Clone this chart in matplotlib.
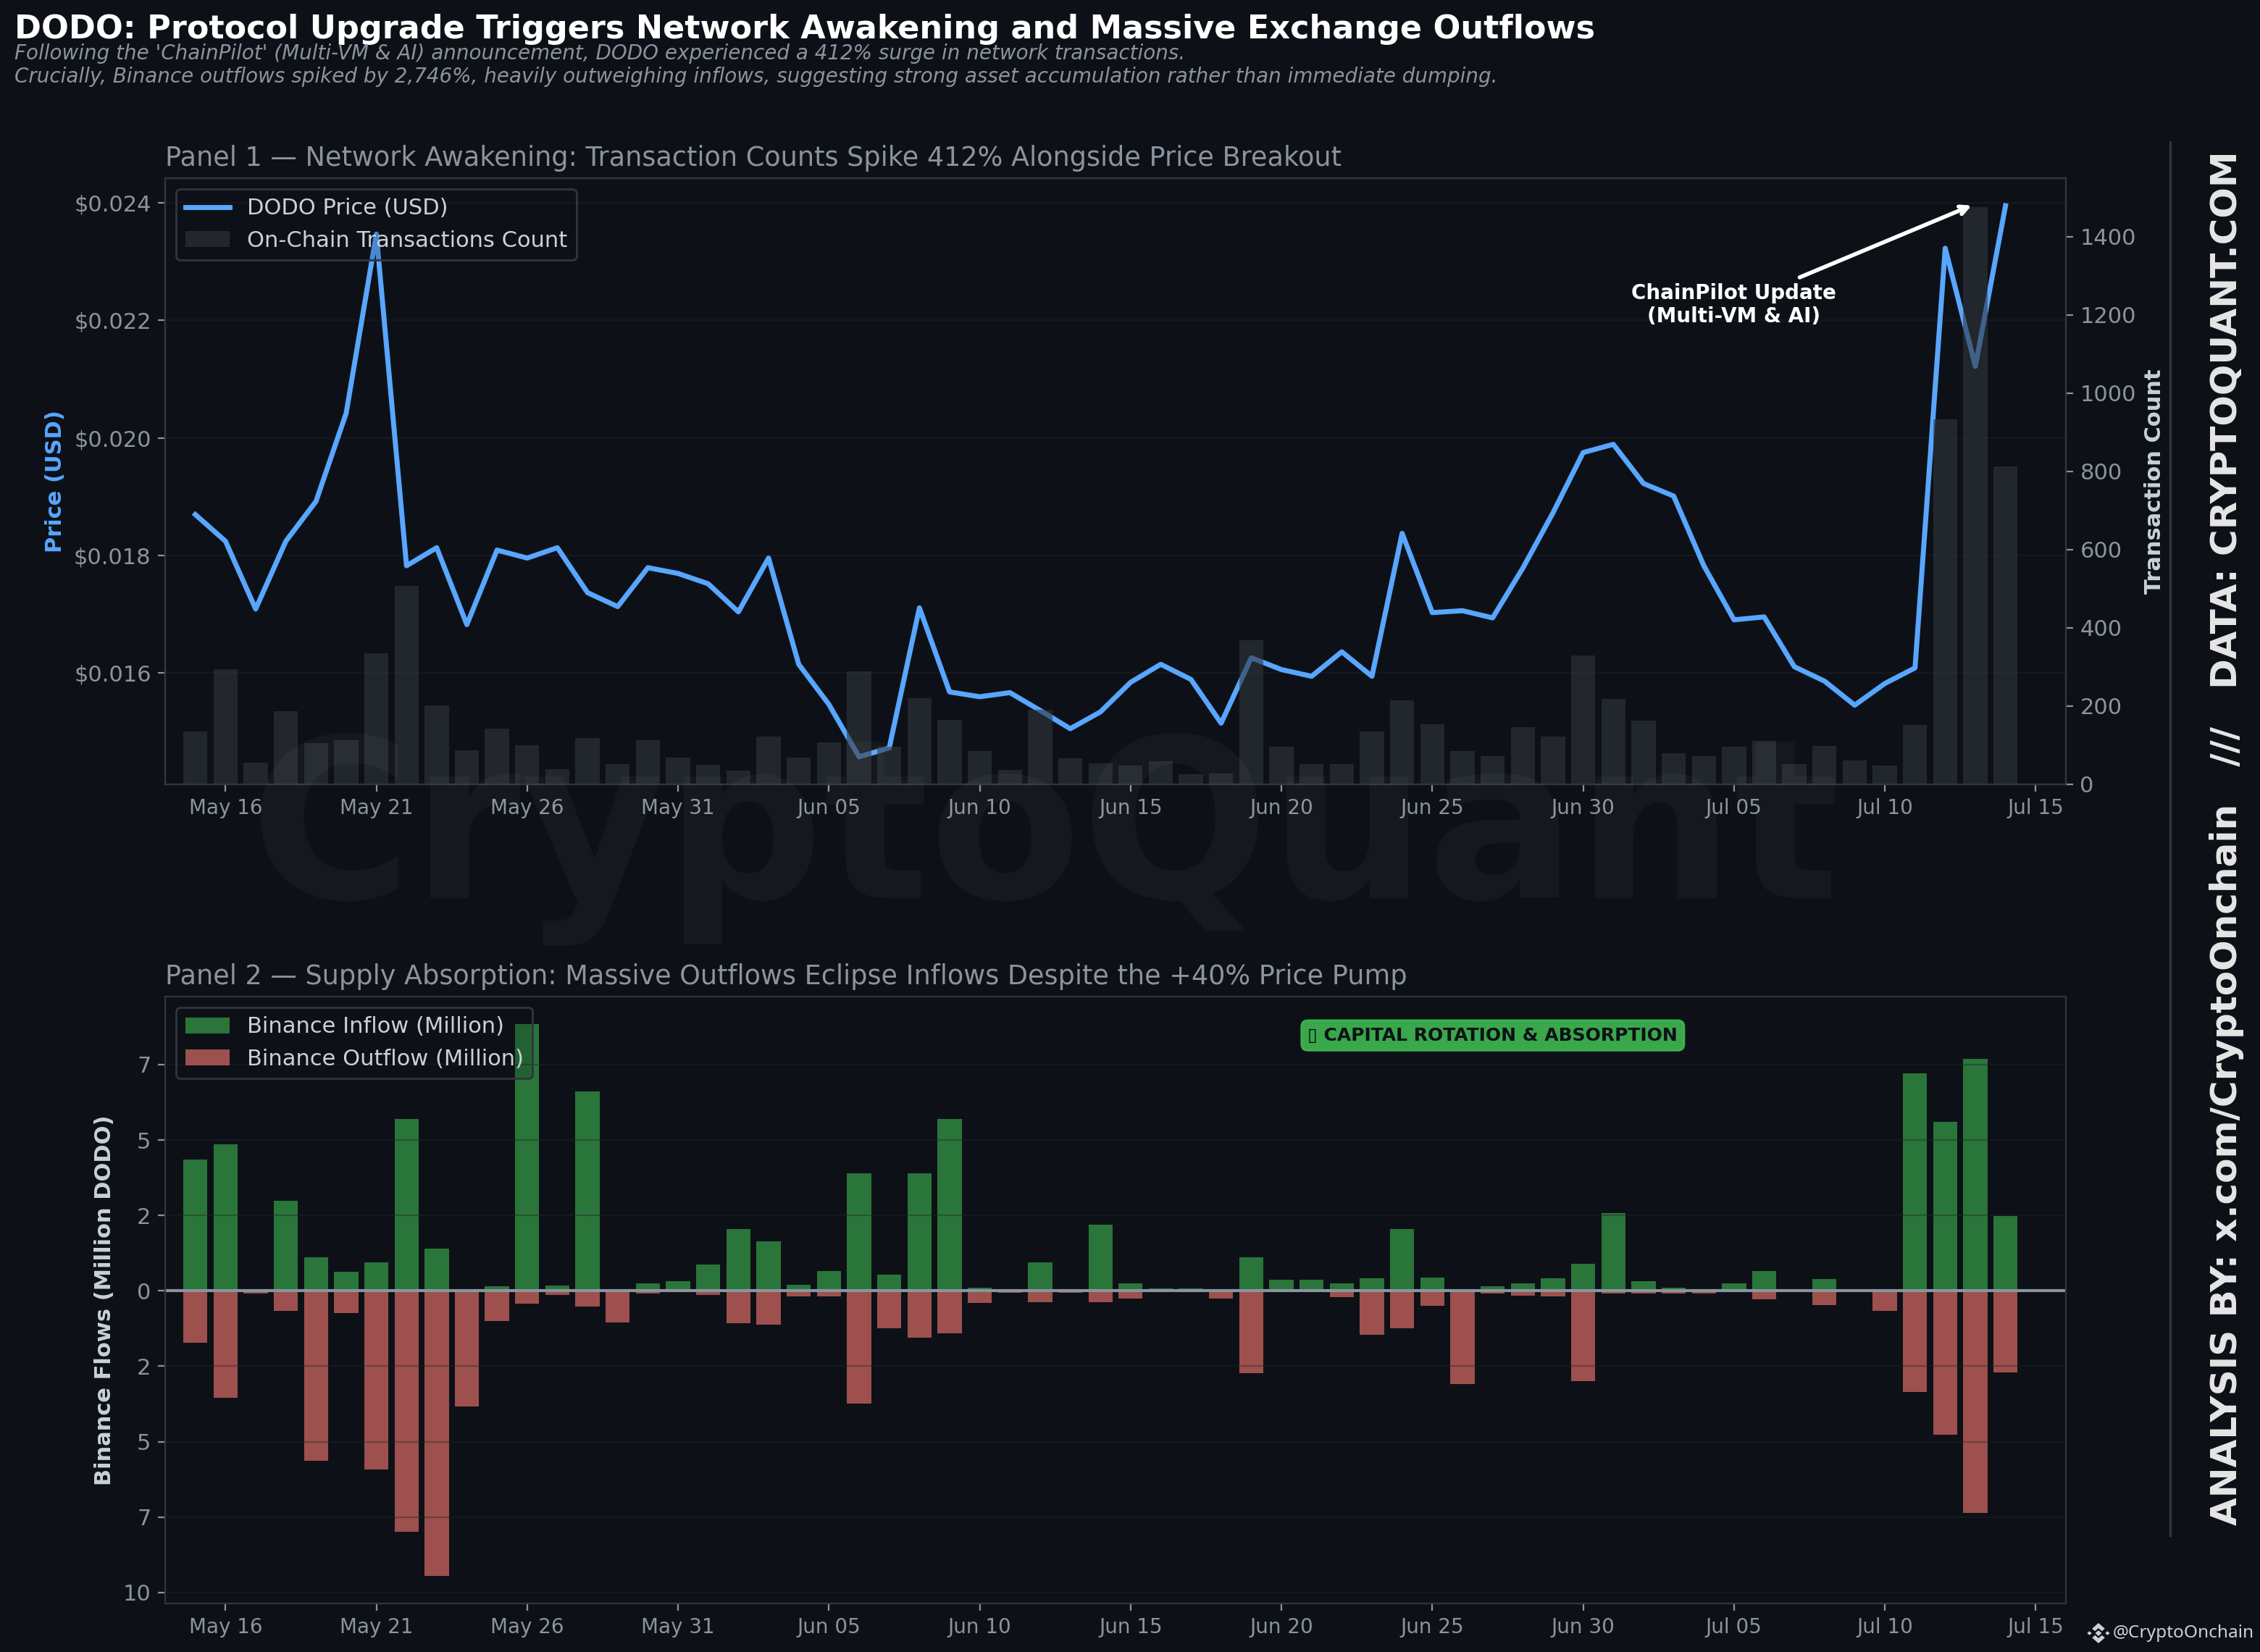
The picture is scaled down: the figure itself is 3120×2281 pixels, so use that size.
import pandas as pd
import matplotlib
matplotlib.use("Agg")
import matplotlib.pyplot as plt
import matplotlib.dates as mdates
from matplotlib.colors import to_rgb
from matplotlib.lines import Line2D
from matplotlib.patches import Polygon
from matplotlib.ticker import FuncFormatter

BG = "#0d1117"
GRID = "#21262d"
SPINE = "#30363d"
MUTED = "#8b949e"
LIGHT = "#c9d1d9"
BLUE = "#58a6ff"
GREEN = "#3fb950"
RED = "#ff7b72"

dates = pd.date_range("2025-05-15", "2025-07-14", freq="D")

price = [0.018695, 0.018241, 0.017088, 0.018241, 0.018920, 0.020420, 0.023468, 0.017824,
         0.018131, 0.016822, 0.018090, 0.017955, 0.018131, 0.017366, 0.017129, 0.017791,
         0.017693, 0.017517, 0.017039, 0.017955, 0.016147, 0.015464, 0.014573, 0.014724,
         0.017108, 0.015677, 0.015595, 0.015665, 0.015362, 0.015051, 0.015337, 0.015840,
         0.016147, 0.015890, 0.015145, 0.016258, 0.016057, 0.015943, 0.016360, 0.015943,
         0.018376, 0.017027, 0.017059, 0.016937, 0.017783, 0.018724, 0.019750, 0.019890,
         0.019223, 0.019010, 0.017824, 0.016904, 0.016953, 0.016106, 0.015861, 0.015452,
         0.015820, 0.016086, 0.023227, 0.021217, 0.023950]

transactions = [135, 294, 55, 187, 105, 113, 336, 508, 201, 87, 142, 100, 39, 118, 52, 113,
                68, 50, 35, 122, 68, 107, 288, 96, 220, 165, 85, 37, 190, 67, 54, 48,
                59, 26, 28, 368, 96, 52, 52, 135, 214, 153, 85, 72, 146, 122, 329, 218,
                163, 79, 72, 96, 111, 52, 98, 61, 48, 152, 934, 1476, 813]

inflow = [4.36, 4.85, 0.06, 2.98, 1.12, 0.62, 0.95, 5.69, 1.39, 0.0, 0.14, 8.84, 0.17, 6.60,
          0.0, 0.25, 0.33, 0.88, 2.04, 1.63, 0.19, 0.65, 3.89, 0.53, 3.89, 5.70, 0.10, 0.0,
          0.94, 0.0, 2.19, 0.24, 0.07, 0.07, 0.0, 1.11, 0.36, 0.36, 0.24, 0.41, 2.04, 0.43,
          0.06, 0.14, 0.25, 0.41, 0.90, 2.57, 0.33, 0.11, 0.0, 0.25, 0.66, 0.0, 0.38, 0.0,
          0.0, 7.20, 5.60, 7.68, 2.49]

outflow = [1.73, 3.54, 0.10, 0.67, 5.64, 0.73, 5.92, 7.99, 9.45, 3.83, 0.99, 0.42, 0.13, 0.53,
           1.04, 0.08, 0.0, 0.13, 1.08, 1.11, 0.19, 0.19, 3.75, 1.25, 1.56, 1.42, 0.41, 0.07,
           0.38, 0.07, 0.38, 0.26, 0.0, 0.0, 0.26, 2.72, 0.0, 0.0, 0.22, 1.46, 1.25, 0.50,
           3.10, 0.10, 0.15, 0.18, 2.99, 0.08, 0.10, 0.10, 0.08, 0.0, 0.27, 0.0, 0.48, 0.0,
           0.67, 3.35, 4.78, 7.37, 2.70]

price_ticks = [0.016, 0.018, 0.020, 0.022, 0.024]
flow_ticks = [-10, -7.5, -5, -2.5, 0, 2.5, 5, 7.5]
date_ticks = pd.date_range("2025-05-16", "2025-07-15", freq="5D")

W, H = 3120, 2281
fig = plt.figure(figsize=(W / 200, H / 200), dpi=200, facecolor=BG)


def box(left, top, right, bottom):
    return [left / W, 1 - bottom / H, (right - left) / W, (bottom - top) / H]


def style_axis(ax):
    ax.set_facecolor(BG)
    ax.tick_params(colors=MUTED)
    ax.tick_params(axis="x", labelsize=10)
    ax.tick_params(axis="y", labelsize=11)
    for s in ax.spines.values():
        s.set_color(SPINE)
    ax.set_xlim(pd.Timestamp("2025-05-14"), pd.Timestamp("2025-07-16"))
    ax.set_xticks(date_ticks)
    ax.xaxis.set_major_formatter(mdates.DateFormatter("%b %d"))


def style_legend(leg):
    # see-through face but a solid edge
    frame = leg.get_frame()
    frame.set_alpha(None)
    frame.set_facecolor(to_rgb(BG) + (0.2,))
    frame.set_edgecolor(SPINE)


# panel 1
ax1 = fig.add_axes(box(228, 246, 2852, 1083))
style_axis(ax1)
ax1.plot(dates, price, color=BLUE, lw=2.5, label="DODO Price (USD)")
ax1.set_yticks(price_ticks)
ax1.yaxis.set_major_formatter(FuncFormatter(lambda v, p: f"${v:.3f}"))
ax1.set_ylabel("Price (USD)", color=BLUE, fontsize=11, fontweight="bold")
ax1.grid(axis="y", color=GRID, alpha=0.4, lw=0.8)
ax1.set_title("Panel 1 — Network Awakening: Transaction Counts Spike 412% Alongside Price Breakout",
              loc="left", color=MUTED, fontsize=13.2, pad=6)

ax1b = ax1.twinx()
ax1b.set_facecolor("none")
ax1b.bar(dates, transactions, width=0.8, color=SPINE, alpha=0.6, label="On-Chain Transactions Count")
ax1b.tick_params(colors=MUTED, labelsize=11)
for s in ax1b.spines.values():
    s.set_color(SPINE)
ax1b.set_ylabel("Transaction Count", color=LIGHT, fontsize=11, fontweight="bold")

h1, l1 = ax1.get_legend_handles_labels()
h2, l2 = ax1b.get_legend_handles_labels()
style_legend(ax1b.legend(h1 + h2, l1 + l2, loc="upper left", fontsize=11, labelcolor=LIGHT))

ax1b.annotate("ChainPilot Update\n(Multi-VM & AI)", xy=(pd.Timestamp("2025-07-13"), 1484),
              xytext=(pd.Timestamp("2025-07-05"), 1226), ha="center", va="center",
              color="white", fontsize=10, fontweight="bold", zorder=10,
              arrowprops=dict(arrowstyle="->", color="white", lw=2))

# panel 2
ax2 = fig.add_axes(box(228, 1376, 2852, 2214))
style_axis(ax2)
ax2.bar(dates, inflow, width=0.8, color=GREEN, alpha=0.6, label="Binance Inflow (Million)")
ax2.bar(dates, [-v for v in outflow], width=0.8, color=RED, alpha=0.6, label="Binance Outflow (Million)")
ax2.axhline(0, color=MUTED, lw=1.5)
ax2.set_yticks(flow_ticks)
ax2.yaxis.set_major_formatter(FuncFormatter(lambda v, p: f"{int(abs(v))}"))
ax2.set_ylabel("Binance Flows (Million DODO)", color=LIGHT, fontsize=11, fontweight="bold")
ax2.grid(axis="y", color=GRID, alpha=0.4, lw=0.8)
ax2.set_title("Panel 2 — Supply Absorption: Massive Outflows Eclipse Inflows Despite the +40% Price Pump",
              loc="left", color=MUTED, fontsize=13.2, pad=6)
style_legend(ax2.legend(loc="upper left", fontsize=11, labelcolor=LIGHT))
ax2.text(0.6985, 0.936, "\u25af CAPITAL ROTATION & ABSORPTION", transform=ax2.transAxes,
         ha="center", va="center", fontsize=9, fontweight="bold", color=BG,
         bbox=dict(boxstyle="round,pad=0.35", facecolor=GREEN, edgecolor=GREEN, alpha=0.9))

# header
fig.text(20 / W, 1 - 40 / H, "DODO: Protocol Upgrade Triggers Network Awakening and Massive Exchange Outflows",
         color="white", fontsize=16, fontweight="bold", va="center")
fig.text(20 / W, 1 - 90 / H,
         "Following the 'ChainPilot' (Multi-VM & AI) announcement, DODO experienced a 412% surge in network transactions.\n"
         "Crucially, Binance outflows spiked by 2,746%, heavily outweighing inflows, suggesting strong asset accumulation rather than immediate dumping.",
         color=MUTED, fontsize=10, style="italic", va="center", linespacing=1.15)

# watermark and side strip
fig.text(1443 / W, 1 - 1158 / H, "CryptoQuant", color="white", alpha=0.035, fontsize=110,
         fontweight="bold", ha="center", va="center")
fig.add_artist(Line2D([2996 / W, 2996 / W], [1 - 196 / H, 1 - 2120 / H], color=SPINE, lw=1.2))
fig.text(3074 / W, 1 - 1157 / H, "ANALYSIS BY: x.com/CryptoOnchain   ///   DATA: CRYPTOQUANT.COM",
         color="#e6e6e6", fontsize=18, fontweight="bold", rotation=90, ha="center", va="center")

# footer logo, four chevrons and diamonds
logo = fig.add_axes(box(2881, 2241, 2913, 2269))
logo.set_axis_off()
logo.set_xlim(-1, 1)
logo.set_ylim(-1, 1)
for sign in (1, -1):
    chevron = [(0, 1), (0.55, 0.45), (0.3, 0.2), (0, 0.5), (-0.3, 0.2), (-0.55, 0.45)]
    logo.add_patch(Polygon([(x, sign * y) for x, y in chevron], color=LIGHT, lw=0))
    cx = sign * 0.78
    logo.add_patch(Polygon([(cx, 0.2), (cx + 0.2, 0), (cx, -0.2), (cx - 0.2, 0)], color=LIGHT, lw=0))
logo.add_patch(Polygon([(0, 0.28), (0.28, 0), (0, -0.28), (-0.28, 0)], color=LIGHT, lw=0))
fig.text(2917 / W, 1 - 2255 / H, "@CryptoOnchain", color=LIGHT, fontsize=8.8,
         family="Noto Sans", va="center")

fig.savefig("out.png", dpi=200, facecolor=BG)
